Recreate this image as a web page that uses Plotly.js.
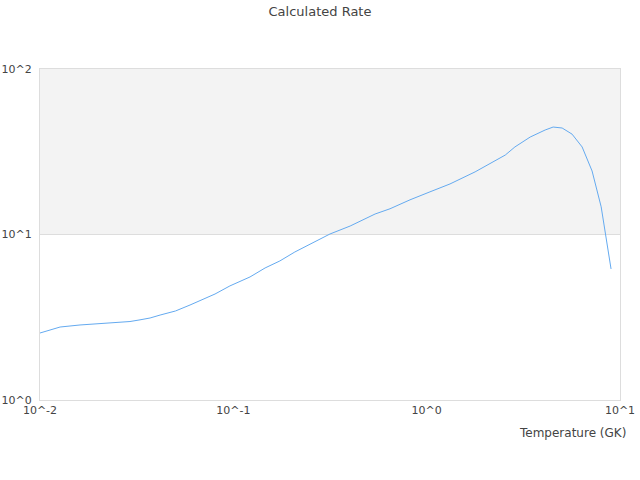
<!DOCTYPE html>
<html>
<head>
<meta charset="utf-8">
<script src="https://cdn.plot.ly/plotly-3.0.1.min.js"></script>
<style>
  body { margin: 0; }
  #rateDiv { width: 640px; height: 480px; }
</style>
</head>
<body>
<div id="rateDiv"></div>
<script>
// temperatures in GK and the calculated rate
var temperature = [0.01, 0.0127, 0.0161, 0.0204, 0.0259, 0.0292, 0.0329, 0.0371, 0.0418, 0.0502,
    0.0597, 0.0714, 0.0804, 0.096, 0.122, 0.146, 0.174, 0.208, 0.249, 0.316,
    0.402, 0.541, 0.646, 0.728, 0.82, 1.04, 1.32, 1.78, 2.13, 2.55,
    2.86, 3.43, 4.10, 4.51, 5.02, 5.65, 6.37, 7.17, 7.99, 8.99];
var rate = [2.54, 2.76, 2.84, 2.90, 2.94, 2.98, 3.05, 3.13, 3.26, 3.45,
    3.75, 4.13, 4.37, 4.89, 5.54, 6.28, 6.92, 7.84, 8.77, 10.07,
    11.25, 13.3, 14.3, 15.3, 16.2, 18.1, 20.2, 23.9, 27.0, 30.2,
    33.8, 38.8, 42.8, 44.6, 44.0, 40.4, 33.8, 24.2, 14.7, 6.19];

var xTickVals = [0.01, 0.1, 1, 10];
var xTickText = ['10^-2', '10^-1', '10^0', '10^1'];
var yTickVals = [1, 10, 100];
var yTickText = ['10^0', '10^1', '10^2'];

var trace1 = {
    x: temperature,
    y: rate,
    mode: 'lines',
    type: 'scatter',
    line: {color: '#64aaf0', width: 1},
    hoverinfo: 'none'
};

var axisFont = {family: 'DejaVu Sans', size: 11, color: '#444'};

var layout = {
    width: 640,
    height: 480,
    margin: {l: 40, r: 20, t: 69, b: 80},
    paper_bgcolor: '#fff',
    plot_bgcolor: '#fff',
    showlegend: false,
    font: axisFont,
    title: {text: 'Calculated Rate', x: 0.5, y: 0.985, font: {family: 'DejaVu Sans', size: 13, color: '#444'}},
    xaxis: {
        type: 'log',
        range: [-2, 1],
        tickvals: xTickVals,
        ticktext: xTickText,
        showgrid: false,
        zeroline: false,
        showline: true,
        mirror: true,
        linecolor: '#ddd',
        linewidth: 1,
        ticks: '',
        tickfont: axisFont
    },
    yaxis: {
        type: 'log',
        range: [0, 2],
        tickvals: yTickVals,
        ticktext: yTickText,
        showgrid: true,
        gridcolor: '#ddd',
        zeroline: false,
        showline: true,
        mirror: true,
        linecolor: '#ddd',
        linewidth: 1,
        ticks: '',
        ticklabelstandoff: 5,
        tickfont: axisFont
    },
    shapes: [{
        type: 'rect',
        xref: 'paper', x0: 0, x1: 1,
        yref: 'y', y0: 10, y1: 100,
        fillcolor: '#f3f3f3',
        line: {width: 0},
        layer: 'below'
    }],
    annotations: [{
        text: 'Temperature (GK)',
        xref: 'paper', yref: 'paper',
        x: 1, y: 0,
        xanchor: 'right', yanchor: 'top',
        xshift: 8, yshift: -24,
        showarrow: false,
        font: {family: 'DejaVu Sans', size: 12, color: '#444'}
    }]
};

Plotly.newPlot('rateDiv', [trace1], layout, {displayModeBar: false, staticPlot: true});
</script>
</body>
</html>
